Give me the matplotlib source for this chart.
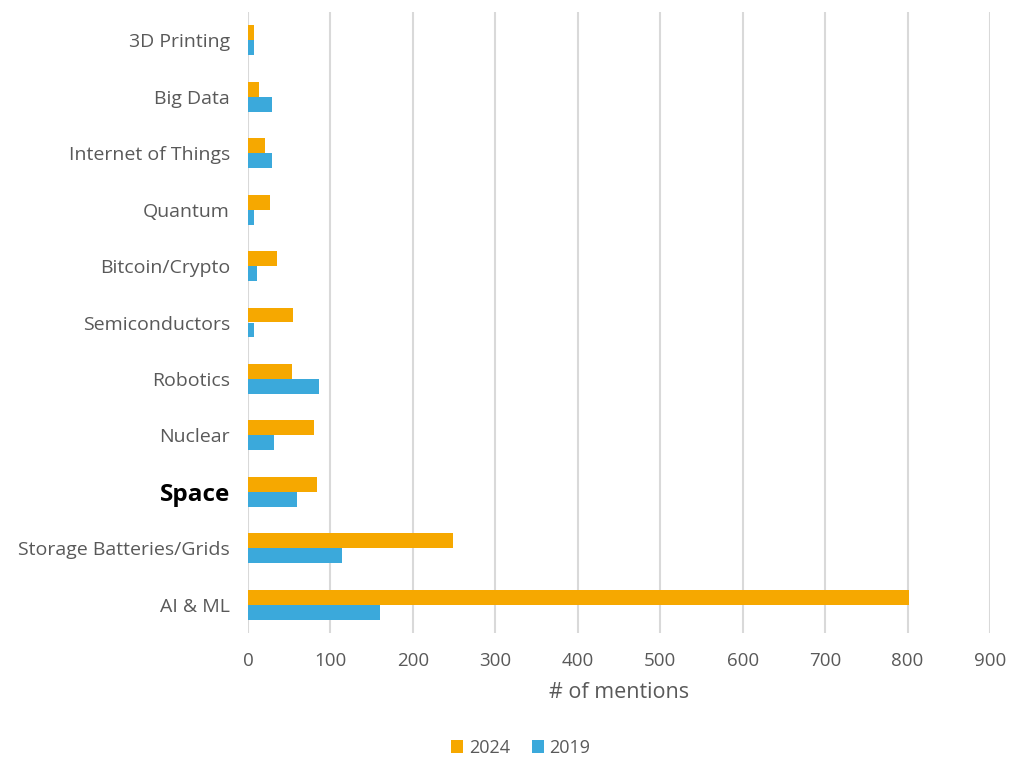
import matplotlib
matplotlib.use("Agg")
import matplotlib.pyplot as plt
import numpy as np

categories = ["3D Printing", "Big Data", "Internet of Things", "Quantum",
              "Bitcoin/Crypto", "Semiconductors", "Robotics", "Nuclear",
              "Space", "Storage Batteries/Grids", "AI & ML"]
mentions_2024 = [7, 13, 21, 27, 35, 55, 53, 80, 84, 249, 802]
mentions_2019 = [7, 29, 29, 7, 11, 7, 86, 31, 59, 114, 160]
x_ticks = [0, 100, 200, 300, 400, 500, 600, 700, 800, 900]
highlight = "Space"

plt.rcParams["font.family"] = ["Open Sans", "DejaVu Sans"]
text_gray = "#595959"
c2024 = "#F6A800"
c2019 = "#3BA9DB"

fig = plt.figure(figsize=(10.11, 7.58), dpi=100)
ax = fig.add_axes([248 / 1011, 1 - 633 / 758, (990 - 248) / 1011, (633 - 12) / 758])

y = np.arange(len(categories))
h = 0.265
ax.barh(y - h / 2, mentions_2024, height=h, color=c2024, label="2024", zorder=3)
ax.barh(y + h / 2, mentions_2019, height=h, color=c2019, label="2019", zorder=3)

ax.set_ylim(len(categories) - 0.5, -0.5)
ax.set_xlim(0, 900)
ax.set_xticks(x_ticks)
ax.set_xticklabels([str(t) for t in x_ticks], fontsize=13.5, color=text_gray)
ax.set_yticks(y)
ax.set_yticklabels(categories, fontsize=14, color=text_gray)
for lbl in ax.get_yticklabels():
    if lbl.get_text() == highlight:
        lbl.set_fontweight("bold")
        lbl.set_color("black")
        lbl.set_fontsize(17.5)

ax.tick_params(axis="both", length=0)
ax.tick_params(axis="x", pad=14)
ax.tick_params(axis="y", pad=13)
ax.grid(axis="x", color="#D9D9D9", linewidth=1.5, zorder=0)
for s in ax.spines.values():
    s.set_visible(False)

ax.set_xlabel("# of mentions", fontsize=15.5, color=text_gray, labelpad=8)

fig.legend(loc="lower center", bbox_to_anchor=(0.515, -0.02), ncol=2, frameon=False,
           fontsize=13, labelcolor=text_gray, handlelength=0.7, handleheight=0.7,
           handletextpad=0.3, columnspacing=1.2)

fig.savefig("out.png", dpi=100, facecolor="white")
